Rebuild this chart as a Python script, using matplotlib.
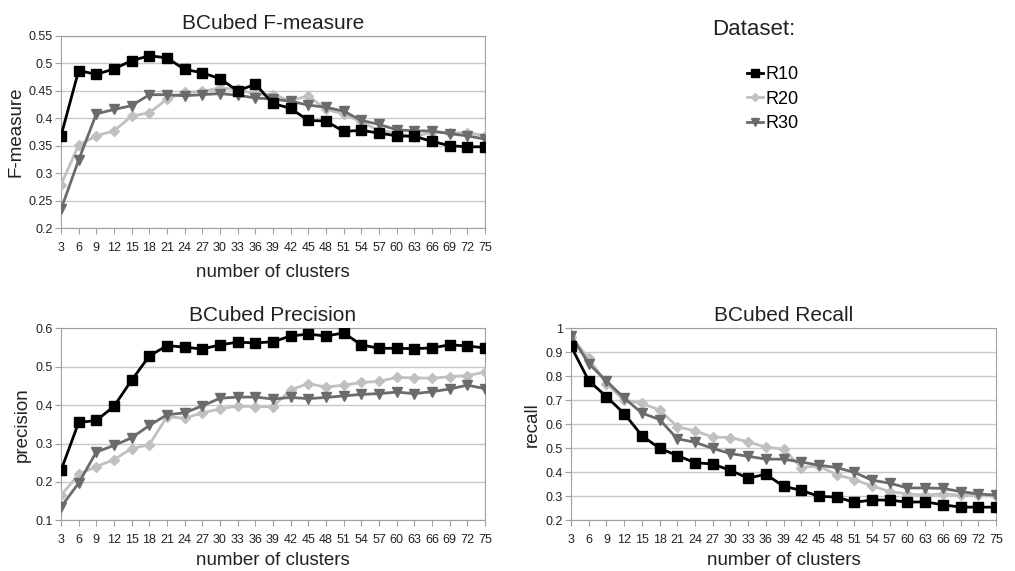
import numpy as np
import matplotlib.pyplot as plt
from matplotlib.ticker import MultipleLocator

plt.rcParams['font.family'] = ['Liberation Sans', 'DejaVu Sans']

clusters = list(range(3, 76, 3))

# BCubed F-measure
f_r10 = [0.368, 0.487, 0.480, 0.490, 0.505, 0.514, 0.510, 0.489, 0.483, 0.472, 0.450, 0.462, 0.427,
         0.418, 0.396, 0.395, 0.376, 0.378, 0.373, 0.368, 0.367, 0.358, 0.350, 0.348, 0.348]
f_r20 = [0.279, 0.351, 0.368, 0.377, 0.404, 0.410, 0.435, 0.447, 0.449, 0.455, 0.453, 0.444, 0.443,
         0.432, 0.441, 0.416, 0.408, 0.393, 0.378, 0.373, 0.366, 0.375, 0.373, 0.374, 0.368]
f_r30 = [0.234, 0.324, 0.408, 0.416, 0.423, 0.443, 0.443, 0.441, 0.443, 0.445, 0.442, 0.437, 0.435,
         0.431, 0.424, 0.420, 0.413, 0.396, 0.389, 0.379, 0.377, 0.377, 0.372, 0.368, 0.362]

# BCubed Precision
p_r10 = [0.230, 0.355, 0.360, 0.397, 0.465, 0.528, 0.555, 0.551, 0.546, 0.557, 0.564, 0.562, 0.565,
         0.580, 0.585, 0.580, 0.588, 0.557, 0.548, 0.548, 0.547, 0.549, 0.557, 0.554, 0.549]
p_r20 = [0.165, 0.220, 0.240, 0.258, 0.287, 0.297, 0.370, 0.366, 0.380, 0.390, 0.398, 0.396, 0.396,
         0.440, 0.456, 0.447, 0.452, 0.459, 0.462, 0.472, 0.471, 0.470, 0.474, 0.477, 0.486]
p_r30 = [0.135, 0.197, 0.278, 0.295, 0.315, 0.347, 0.375, 0.380, 0.398, 0.418, 0.421, 0.421, 0.416,
         0.420, 0.417, 0.420, 0.424, 0.428, 0.430, 0.434, 0.430, 0.435, 0.442, 0.452, 0.443]

# BCubed Recall
r_r10 = [0.925, 0.782, 0.715, 0.645, 0.553, 0.500, 0.470, 0.440, 0.435, 0.408, 0.376, 0.392, 0.342,
         0.325, 0.300, 0.297, 0.275, 0.285, 0.284, 0.276, 0.277, 0.265, 0.255, 0.255, 0.255]
r_r20 = [0.965, 0.875, 0.770, 0.700, 0.687, 0.660, 0.590, 0.573, 0.547, 0.545, 0.527, 0.505, 0.497,
         0.420, 0.427, 0.390, 0.370, 0.343, 0.320, 0.310, 0.305, 0.310, 0.305, 0.305, 0.300]
r_r30 = [0.970, 0.853, 0.780, 0.710, 0.647, 0.620, 0.540, 0.525, 0.500, 0.478, 0.467, 0.455, 0.455,
         0.443, 0.430, 0.420, 0.400, 0.367, 0.355, 0.335, 0.335, 0.333, 0.320, 0.310, 0.305]

styles = {
    "R10": dict(color="black", marker="s", ms=7),
    "R20": dict(color="#c0c0c0", marker="D", ms=5),
    "R30": dict(color="#6b6b6b", marker="v", ms=7),
}

fig = plt.figure(figsize=(10.15, 5.71), dpi=100)
ax_f = fig.add_axes([0.0601, 0.6007, 0.4177, 0.3363])
ax_p = fig.add_axes([0.0601, 0.0887, 0.4177, 0.3363])
ax_r = fig.add_axes([0.5626, 0.0887, 0.4187, 0.3363])

panels = [
    (ax_f, "BCubed F-measure", "F-measure", [f_r10, f_r20, f_r30], (0.2, 0.55), 0.05),
    (ax_p, "BCubed Precision", "precision", [p_r10, p_r20, p_r30], (0.1, 0.6), 0.1),
    (ax_r, "BCubed Recall", "recall", [r_r10, r_r20, r_r30], (0.2, 1.0), 0.1),
]

x = np.arange(len(clusters))
for ax, title, ylabel, series, ylim, step in panels:
    for name, vals in zip(["R20", "R30", "R10"], [series[1], series[2], series[0]]):
        st = styles[name]
        ax.plot(x, vals, color=st["color"], marker=st["marker"], ms=st["ms"],
                lw=2, label=name, zorder=3)
    ax.set_xlim(0, len(clusters) - 1)
    ax.set_ylim(*ylim)
    ax.yaxis.set_major_locator(MultipleLocator(step))
    ax.set_yticklabels([f"{v:g}" for v in ax.get_yticks()])
    ax.set_xticks(x)
    ax.set_xticklabels([str(c) for c in clusters])
    ax.tick_params(axis="x", labelsize=9, length=4, color="#a0a0a0", pad=6, labelcolor="#222222")
    ax.tick_params(axis="y", labelsize=9, length=4, color="#a0a0a0", pad=2, labelcolor="#222222")
    ax.grid(axis="y", color="#c8c8c8", lw=1)
    ax.set_axisbelow(True)
    for sp in ax.spines.values():
        sp.set_color("#a0a0a0")
    ax.set_title(title, fontsize=15, color="#222222", pad=5)
    ax.set_ylabel(ylabel, fontsize=13.5, color="#222222", labelpad=3)
    ax.set_xlabel("number of clusters", fontsize=13.5, color="#222222")

ax_f.xaxis.labelpad = 7
ax_p.xaxis.labelpad = 4
ax_r.xaxis.labelpad = 4

handles, labels = ax_f.get_legend_handles_labels()
order = [labels.index(n) for n in ["R10", "R20", "R30"]]
fig.text(0.743, 0.949, "Dataset:", fontsize=16, color="#222222", ha="center", va="center")
fig.legend([handles[i] for i in order], [labels[i] for i in order],
           loc="upper left", bbox_to_anchor=(0.727, 0.9), frameon=False,
           fontsize=13, handlelength=0.9, handletextpad=0.15, labelspacing=0.42,
           borderpad=0, markerscale=0.75)

fig.savefig("out.png", dpi=100)
